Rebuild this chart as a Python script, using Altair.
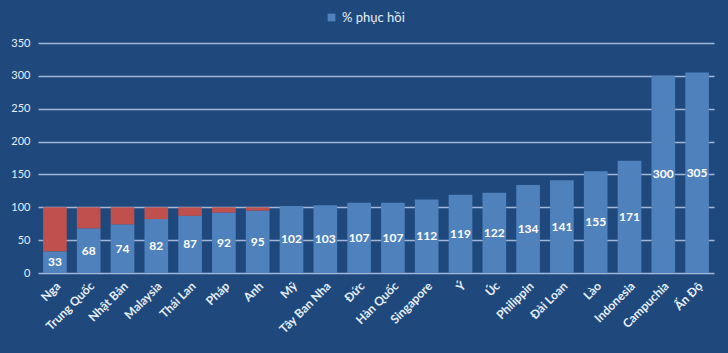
import altair as alt
import pandas as pd

countries = ["Nga", "Trung Quốc", "Nhật Bản", "Malaysia", "Thái Lan", "Pháp", "Anh", "Mỹ",
             "Tây Ban Nha", "Đức", "Hàn Quốc", "Singapore", "Ý", "Úc", "Philippin",
             "Đài Loan", "Lào", "Indonesia", "Campuchia", "Ấn Độ"]
values = [33, 68, 74, 82, 87, 92, 95, 102, 103, 107, 107, 112, 119, 122, 134, 141, 155, 171, 300, 305]
y_ticks = [0, 50, 100, 150, 200, 250, 300, 350]
series_name = "% phục hồi"
baseline = 100

df = pd.DataFrame({"country": countries, "value": values})
df["series"] = series_name
df["mid"] = df["value"] / 2
df["base"] = baseline

FONT = "Lato"
BG = "#1f497d"
BLUE = "#4f81bd"
RED = "#c0504d"
GRID = "#a3b8d8"
TXT = "#e8eef7"

xaxis = alt.Axis(title=None, labelAngle=-45, labelColor=TXT, labelFont=FONT,
                 labelFontSize=12, labelFontWeight="bold", ticks=False,
                 domain=False, labelPadding=7, labelAlign="right",
                 labelBaseline="top")
yaxis = alt.Axis(title=None, values=y_ticks, labelColor=TXT, labelFont=FONT,
                 labelFontSize=11, ticks=False, domain=False, labelPadding=8,
                 grid=True, gridColor=GRID, gridWidth=1.5, labelOverlap=False)

xscale = alt.Scale(paddingInner=0.3, paddingOuter=0.15)
yscale = alt.Scale(domain=[0, 350], nice=False)

xenc = alt.X("country:N", sort=countries, scale=xscale, axis=xaxis)

bars = alt.Chart(df).mark_bar(color=BLUE).encode(
    x=xenc,
    y=alt.Y("value:Q", scale=yscale, axis=yaxis),
    color=alt.Color("series:N",
                    scale=alt.Scale(domain=[series_name], range=[BLUE]),
                    legend=alt.Legend(title=None, orient="none", legendX=287, legendY=-32,
                                      labelColor=TXT, labelFont=FONT, labelFontSize=13,
                                      symbolType="square", symbolSize=60,
                                      symbolStrokeWidth=0)),
)

red = alt.Chart(df).transform_filter(alt.datum.value < baseline).mark_bar(color=RED).encode(
    x=xenc,
    y=alt.Y("value:Q", scale=yscale, axis=yaxis),
    y2="base:Q",
)

labels = alt.Chart(df).mark_text(color="white", font=FONT, fontSize=12,
                                 fontWeight="bold").encode(
    x=xenc,
    y=alt.Y("mid:Q", scale=yscale, axis=yaxis),
    text="value:Q",
)

chart = alt.layer(bars, red, labels).properties(
    width=676, height=230,
    background=BG,
    autosize=alt.AutoSizeParams(type="none"),
    padding={"left": 38, "top": 43, "right": 14, "bottom": 80},
).configure_view(stroke=None)

chart.save("out.html", embed_options={"renderer": "svg", "actions": False})
